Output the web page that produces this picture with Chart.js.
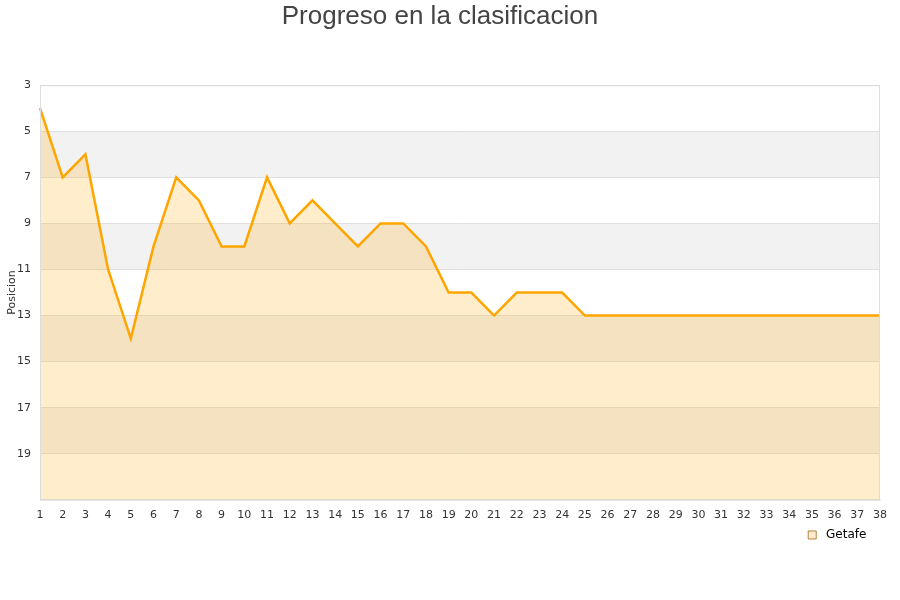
<!DOCTYPE html>
<html>
<head>
<meta charset="utf-8">
<script src="https://cdn.jsdelivr.net/npm/chart.js@4"></script>
<style>
  body { margin: 0; background: #fff; }
  #wrap { width: 900px; height: 600px; }
</style>
</head>
<body>
<div id="wrap"><canvas id="myChart"></canvas></div>
<script>
const jornadas = [];
for (let i = 1; i <= 38; i++) jornadas.push(String(i));

const posiciones = [4, 7, 6, 11, 14, 10, 7, 8, 10, 10,
                    7, 9, 8, 9, 10, 9, 9, 10, 12, 12,
                    13, 12, 12, 12, 13, 13, 13, 13, 13, 13,
                    13, 13, 13, 13, 13, 13, 13, 13];

const yTicks = [3, 5, 7, 9, 11, 13, 15, 17, 19];
const bands = [[5, 7], [9, 11], [13, 15], [17, 19]];

// franjas grises alternas detras del grafico
const bandPlugin = {
  id: 'bands',
  beforeDraw(chart) {
    const { ctx, chartArea, scales } = chart;
    ctx.save();
    ctx.fillStyle = '#f2f2f2';
    bands.forEach(function (b) {
      const y1 = scales.y.getPixelForValue(b[0]);
      const y2 = scales.y.getPixelForValue(b[1]);
      ctx.fillRect(chartArea.left, y1, chartArea.right - chartArea.left, y2 - y1);
    });
    ctx.restore();
  },
  afterDraw(chart) {
    const { ctx, chartArea } = chart;
    ctx.save();
    ctx.strokeStyle = '#dddddd';
    ctx.lineWidth = 1;
    ctx.strokeRect(chartArea.left + 0.5, chartArea.top + 0.5,
                   chartArea.right - chartArea.left - 1, chartArea.bottom - chartArea.top);
    ctx.restore();
  }
};

const ctx = document.getElementById('myChart');

new Chart(ctx, {
  type: 'line',
  data: {
    labels: jornadas,
    datasets: [{
      label: 'Getafe',
      data: posiciones,
      borderColor: '#ffa500',
      backgroundColor: 'rgba(255, 165, 0, 0.2)',
      borderWidth: 2.5,
      pointRadius: 0,
      tension: 0,
      fill: 'start'
    }]
  },
  options: {
    responsive: true,
    maintainAspectRatio: false,
    animation: false,
    layout: { padding: { left: 0, right: 20, top: 1, bottom: 49 } },
    plugins: {
      title: {
        display: true,
        text: 'Progreso en la clasificacion',
        color: '#444',
        font: { family: 'Liberation Sans', size: 26, weight: 'normal' },
        padding: { top: 0, bottom: 53 }
      },
      legend: {
        position: 'bottom',
        align: 'end',
        labels: {
          color: '#000',
          font: { family: 'DejaVu Sans', size: 12 },
          boxWidth: 8,
          boxHeight: 8,
          padding: 6,
          generateLabels: function (chart) {
            return [{
              text: ' Getafe  ',
              fillStyle: '#ffeccc',
              strokeStyle: '#b08040',
              lineWidth: 1,
              datasetIndex: 0
            }];
          }
        }
      },
      tooltip: { enabled: false }
    },
    scales: {
      x: {
        offset: false,
        grid: { display: false },
        border: { color: '#dddddd' },
        ticks: {
          color: '#333',
          font: { family: 'DejaVu Sans', size: 11 },
          maxRotation: 0,
          autoSkip: false,
          padding: 1
        }
      },
      y: {
        reverse: true,
        min: 3,
        max: 21,
        afterBuildTicks: function (axis) {
          axis.ticks = yTicks.concat([21]).map(function (v) { return { value: v }; });
        },
        afterFit: function (axis) { axis.width = 40; },
        grid: { color: '#e0e0e0', drawTicks: false },
        border: { color: '#dddddd' },
        ticks: {
          color: '#333',
          font: { family: 'DejaVu Sans', size: 11 },
          padding: 9,
          callback: function (v) { return v === 21 ? '' : v; }
        },
        title: {
          display: true,
          text: 'Posicion',
          color: '#333',
          font: { family: 'DejaVu Sans', size: 11 },
          padding: 6
        }
      }
    }
  },
  plugins: [bandPlugin]
});
</script>
</body>
</html>
